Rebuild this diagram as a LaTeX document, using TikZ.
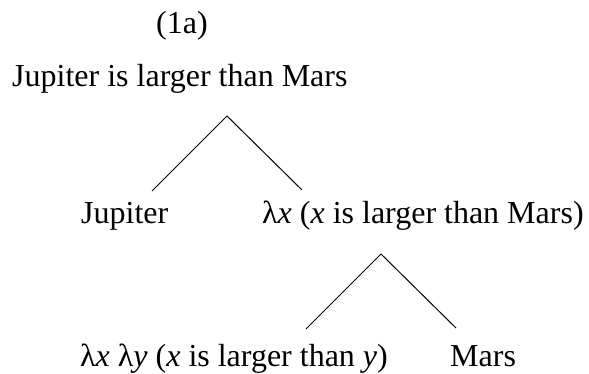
\documentclass[tikz,border=0pt]{standalone}
\usepackage{fontspec}
\setmainfont{Liberation Serif}
\begin{document}
\begin{tikzpicture}[x=1pt,y=1pt,
  lbl/.style={anchor=base west,inner sep=0pt,font=\fontsize{32}{38}\selectfont},
  branch/.style={line width=1pt,black}]
\useasboundingbox (0,0) rectangle (589,-374);
\node[lbl] (t0) at (156,-34) {(1a)};
\node[lbl] (r1) at (12,-87) {Jupiter is larger than Mars};
\node[lbl] (j) at (81,-224) {Jupiter};
\node[lbl] (lx) at (262,-224) {λ\textit{x} (\textit{x} is larger than Mars)};
\node[lbl] (lxy) at (80,-366) {λ\textit{x} λ\textit{y} (\textit{x} is larger than \textit{y})};
\node[lbl] (m) at (450,-366) {Mars};
\coordinate (a1) at (227,-116);
\coordinate (l1) at (152,-191);
\coordinate (r1e) at (302,-190);
\coordinate (a2) at (381,-254);
\coordinate (l2) at (306,-329);
\coordinate (r2e) at (456,-328);
\draw[branch] (l1) -- (a1) -- (r1e);
\draw[branch] (l2) -- (a2) -- (r2e);
\end{tikzpicture}
\end{document}
